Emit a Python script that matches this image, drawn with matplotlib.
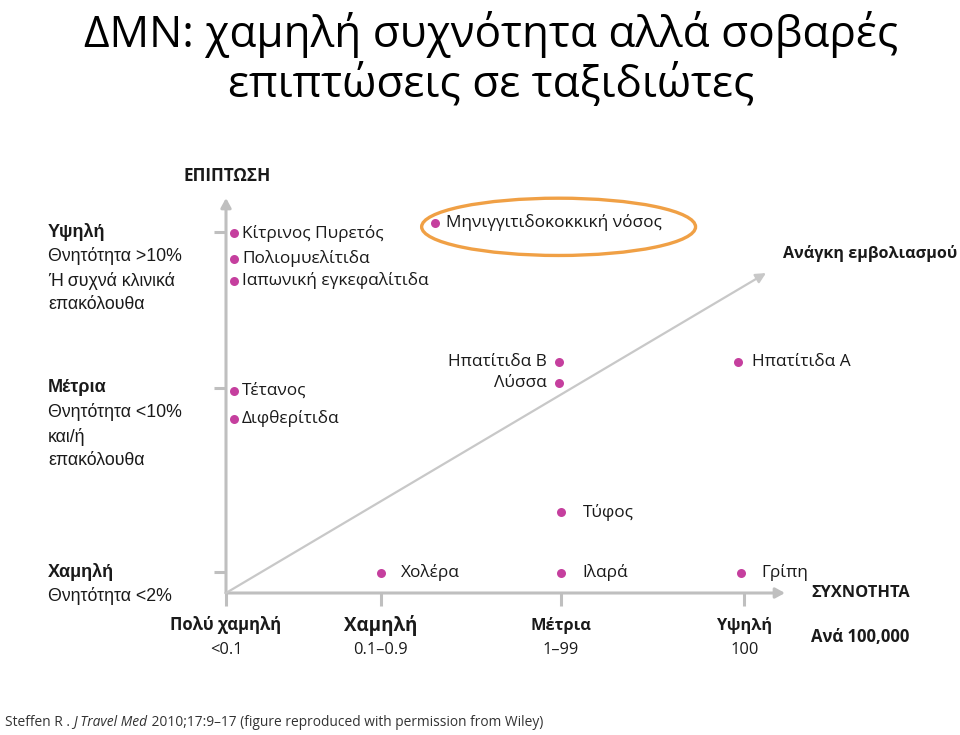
import matplotlib
matplotlib.use('Agg')
import matplotlib.pyplot as plt
from matplotlib.patches import Ellipse
from matplotlib import transforms

# ---------------- data ----------------
title_lines = ['ΔΜΝ: χαμηλή συχνότητα αλλά σοβαρές', 'επιπτώσεις σε ταξιδιώτες']

freq_levels = ['Πολύ χαμηλή', 'Χαμηλή', 'Μέτρια', 'Υψηλή']
freq_ranges = ['<0.1', '0.1–0.9', '1–99', '100']
freq_pos = [0.0, 2.77, 5.99, 9.27]

sev_levels = ['Υψηλή', 'Μέτρια', 'Χαμηλή']
sev_desc = [['Θνητότητα >10%', 'Ή συχνά κλινικά', 'επακόλουθα'],
            ['Θνητότητα <10%', 'και/ή', 'επακόλουθα'],
            ['Θνητότητα <2%']]
sev_pos = [9.14, 5.19, 0.53]

diseases = ['Κίτρινος Πυρετός', 'Πολιομυελίτιδα', 'Ιαπωνική εγκεφαλίτιδα',
            'Μηνιγγιτιδοκοκκική νόσος', 'Τέτανος', 'Διφθερίτιδα',
            'Ηπατίτιδα Β', 'Λύσσα', 'Ηπατίτιδα Α', 'Τύφος',
            'Χολέρα', 'Ιλαρά', 'Γρίπη']
dis_freq = [0.15, 0.15, 0.15, 3.73, 0.15, 0.15, 5.96, 5.96, 9.16, 5.99, 2.77, 5.99, 9.21]
dis_sev = [9.11, 8.46, 7.90, 9.37, 5.11, 4.41, 5.86, 5.32, 5.86, 2.05, 0.51, 0.51, 0.51]
highlighted = 'Μηνιγγιτιδοκοκκική νόσος'

vacc_arrow_end = (9.66, 8.10)

y_axis_title = 'ΕΠΙΠΤΩΣΗ'
x_axis_title = 'ΣΥΧΝΟΤΗΤΑ'
x_unit = 'Ανά 100,000'
arrow_label = 'Ανάγκη εμβολιασμού'

# ---------------- layout / style ----------------
W, H = 960, 735
CAL = ['Open Sans', 'DejaVu Sans']
ARI = ['Liberation Sans', 'DejaVu Sans']
TXT = '#1a1a1a'
GRAY = '#bfbfbf'
DOT = '#c53f9e'
ORANGE = '#f0a045'

# label placement (side, offset px) for each disease
label_side = ['r', 'r', 'r', 'r', 'r', 'r', 'l', 'l', 'r', 'r', 'r', 'r', 'r']
label_off = [8, 8, 8, 11, 7, 7, -12, -12, 14, 22, 20, 22, 21]

def fx(x):
    return x / W

def fy(y):
    return 1 - y / H

fig = plt.figure(figsize=(W / 100, H / 100), dpi=100)
fig.patch.set_facecolor('white')

# axes area: x 226->785 px, y 593->198 px
ax = fig.add_axes([fx(226), fy(593), (785 - 226) / W, (593 - 198) / H])
ax.set_xlim(0, 10)
ax.set_ylim(0, 10)
ax.patch.set_alpha(0)
for s in ax.spines.values():
    s.set_visible(False)
ax.set_xticks(freq_pos)
ax.set_yticks(sev_pos)
ax.tick_params(axis='both', direction='out', length=9, width=2.2, color=GRAY,
               labelbottom=False, labelleft=False)
for t in ax.xaxis.get_major_ticks() + ax.yaxis.get_major_ticks():
    t.tick1line.set_clip_on(False)

# axis arrows
ap = dict(arrowstyle='-|>,head_length=0.55,head_width=0.3', color=GRAY, lw=2.2,
          shrinkA=0, shrinkB=0)
ax.annotate('', xy=(0, 10), xytext=(0, 0), arrowprops=ap, annotation_clip=False)
ax.annotate('', xy=(10, 0), xytext=(0, 0), arrowprops=ap, annotation_clip=False)
# vaccination need arrow
ap2 = dict(arrowstyle='-|>,head_length=0.6,head_width=0.3', color='#c8c8c8', lw=1.6,
           shrinkA=0, shrinkB=0)
ax.annotate('', xy=vacc_arrow_end, xytext=(0, 0), arrowprops=ap2, annotation_clip=False)

# disease dots and labels
ax.scatter(dis_freq, dis_sev, s=42, color=DOT, zorder=5, clip_on=False, linewidths=0)
for name, x, y, side, off in zip(diseases, dis_freq, dis_sev, label_side, label_off):
    ax.annotate(name, xy=(x, y), xytext=(off * 0.72, 0), textcoords='offset points',
                ha='left' if side == 'r' else 'right', va='center',
                fontsize=12.4, family=CAL, color=TXT, annotation_clip=False)

# highlight ellipse
i = diseases.index(highlighted)
ell = Ellipse((dis_freq[i] + 2.22, dis_sev[i] - 0.1), width=4.9, height=1.45,
              fill=False, edgecolor=ORANGE, lw=2.4, clip_on=False, zorder=4)
ax.add_patch(ell)

# x tick labels
bt = transforms.blended_transform_factory(ax.transData, fig.transFigure)
lvl_size = [12, 13.5, 11.8, 11.8]
for lvl, rng, xp, fs in zip(freq_levels, freq_ranges, freq_pos, lvl_size):
    ax.text(xp, fy(625), lvl, transform=bt, ha='center', va='center', fontsize=fs,
            fontweight='bold', family=CAL, color=TXT)
    ax.text(xp, fy(650), rng, transform=bt, ha='center', va='center', fontsize=11.8,
            family=CAL, color=TXT)

# y tick labels
bt2 = transforms.blended_transform_factory(fig.transFigure, ax.transData)
for lvl, desc, yp in zip(sev_levels, sev_desc, sev_pos):
    ax.text(fx(48), yp, lvl, transform=bt2, ha='left', va='center', fontsize=13,
            fontweight='bold', family=ARI, color=TXT)
    for k, d in enumerate(desc):
        ax.text(fx(48), yp - (k + 1) * 24.3 / 39.5, d, transform=bt2, ha='left',
                va='center', fontsize=12.8, family=ARI, color=TXT)

# axis titles
fig.text(fx(227), fy(176), y_axis_title, ha='center', va='center', fontsize=12.4,
         fontweight='bold', family=CAL, color=TXT)
fig.text(fx(861), fy(593), x_axis_title, ha='center', va='center', fontsize=11.8,
         fontweight='bold', family=CAL, color=TXT)
fig.text(fx(860), fy(637), x_unit, ha='center', va='center', fontsize=12,
         fontweight='bold', family=CAL, color=TXT)
fig.text(fx(957), fy(253), arrow_label, ha='right', va='center', fontsize=11.6,
         fontweight='bold', family=CAL, color=TXT)

# title
fig.text(fx(491), fy(35), title_lines[0], ha='center', va='center', fontsize=31.8,
         family=CAL, color='black')
fig.text(fx(491), fy(85), title_lines[1], ha='center', va='center', fontsize=31.8,
         family=CAL, color='black')

# footer with italic part
renderer = fig.canvas.get_renderer()
pieces = [('Steffen R . ', 'normal'), ('J Travel Med', 'italic'),
          (' 2010;17:9–17 (figure reproduced with permission from Wiley)', 'normal')]
xcur = 5
for txt, st in pieces:
    t = fig.text(fx(xcur), fy(722), txt, ha='left', va='center', fontsize=9.9,
                 style=st, family=CAL, color='#333333')
    bb = t.get_window_extent(renderer=renderer)
    xcur += bb.width

fig.savefig('out.png', dpi=100)
